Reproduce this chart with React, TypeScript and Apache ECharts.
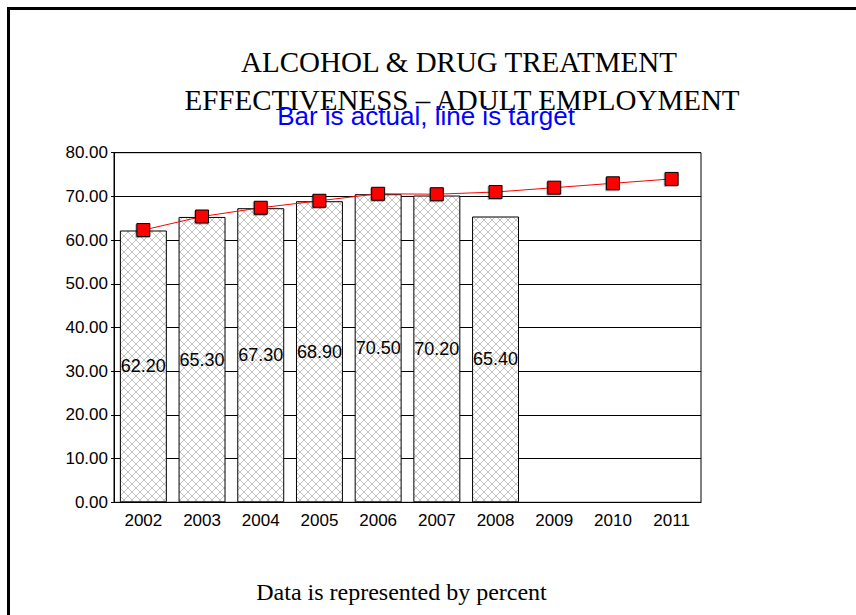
import React, { useEffect, useRef } from "react";
import * as echarts from "echarts";

const years = ["2002", "2003", "2004", "2005", "2006", "2007", "2008", "2009", "2010", "2011"];
const actual: (number | null)[] = [62.2, 65.3, 67.3, 68.9, 70.5, 70.2, 65.4, null, null, null];
const target = [62.3, 65.4, 67.4, 69.0, 70.6, 70.5, 71.0, 72.0, 73.0, 74.0];
const titleLines = ["ALCOHOL & DRUG TREATMENT", "EFFECTIVENESS – ADULT EMPLOYMENT"];
const subtitle = "Bar is actual, line is target";
const footnote = "Data is represented by percent";

function makeHatch(): string {
  const s = 8;
  const svg =
    `<svg xmlns="http://www.w3.org/2000/svg" width="${s}" height="${s}">` +
    `<rect width="${s}" height="${s}" fill="#ffffff"/>` +
    `<path d="M0 0L${s} ${s}M${s} 0L0 ${s}" stroke="#c2c2c2" stroke-width="1"/>` +
    `</svg>`;
  return "data:image/svg+xml;base64," + btoa(svg);
}

const SERIF = "'Liberation Serif', 'Times New Roman', serif";
const SANS = "'Liberation Sans', Arial, sans-serif";

export default function App() {
  const ref = useRef<HTMLDivElement>(null);
  useEffect(() => {
    if (!ref.current) return;
    const chart = echarts.init(ref.current, undefined, { renderer: "svg" });
    const hatch = { image: makeHatch(), repeat: "repeat" };
    chart.setOption({
      animation: false,
      backgroundColor: "#ffffff",
      grid: {
        left: 114,
        right: 155,
        top: 152.7,
        bottom: 112.7,
        show: true,
        borderColor: "#000",
        borderWidth: 1,
        backgroundColor: "transparent",
      },
      graphic: [
        { type: "line", shape: { x1: 8, y1: 8.5, x2: 856, y2: 8.5 }, style: { stroke: "#000", lineWidth: 3 } },
        { type: "line", shape: { x1: 8.5, y1: 7, x2: 8.5, y2: 615 }, style: { stroke: "#000", lineWidth: 3 } },
        {
          type: "text",
          x: 459,
          y: 62,
          style: {
            text: titleLines[0],
            font: `29px ${SERIF}`,
            fill: "#000",
            textAlign: "center",
            textVerticalAlign: "middle",
          },
        },
        {
          type: "text",
          x: 462,
          y: 100,
          style: {
            text: titleLines[1],
            font: `29px ${SERIF}`,
            fill: "#000",
            textAlign: "center",
            textVerticalAlign: "middle",
          },
        },
        {
          type: "text",
          x: 426,
          y: 116,
          style: {
            text: subtitle,
            font: `26px ${SANS}`,
            fill: "#0000ff",
            textAlign: "center",
            textVerticalAlign: "middle",
          },
        },
        {
          type: "text",
          x: 401.5,
          y: 592,
          style: {
            text: footnote,
            font: `24px ${SERIF}`,
            fill: "#000",
            textAlign: "center",
            textVerticalAlign: "middle",
          },
        },
      ],
      xAxis: {
        type: "category",
        data: years,
        axisLine: { show: true, lineStyle: { color: "#000", width: 1 } },
        axisTick: { show: false },
        axisLabel: {
          color: "#000",
          fontSize: 17,
          fontFamily: SANS,
          margin: 10,
        },
      },
      yAxis: {
        type: "value",
        min: 0,
        max: 80,
        interval: 10,
        axisLine: { show: true, lineStyle: { color: "#000", width: 1 } },
        axisTick: { show: true, length: 3, lineStyle: { color: "#000" } },
        splitLine: { show: true, lineStyle: { color: "#000", width: 1 } },
        axisLabel: {
          color: "#000",
          fontSize: 17,
          fontFamily: SANS,
          margin: 6,
          formatter: (v: number) => v.toFixed(2),
        },
      },
      series: [
        {
          type: "bar",
          data: actual,
          barWidth: "80%",
          itemStyle: { color: hatch, borderColor: "#000", borderWidth: 1 },
          label: {
            show: true,
            position: "inside",
            color: "#000",
            fontSize: 18,
            fontFamily: SANS,
            formatter: (p: any) => (p.value == null ? "" : Number(p.value).toFixed(2)),
          },
          z: 2,
        },
        {
          type: "line",
          data: target,
          symbol: "rect",
          symbolSize: 13,
          lineStyle: { color: "#ff0000", width: 1 },
          itemStyle: {
            color: "#ff0000",
            borderColor: "#000",
            borderWidth: 1,
            shadowColor: "rgba(0,0,0,0.3)",
            shadowOffsetX: -1,
            shadowOffsetY: 1,
            shadowBlur: 1,
          },
          z: 3,
        },
      ],
    });
    return () => chart.dispose();
  }, []);
  return <div ref={ref} style={{ position: "absolute", left: 0, top: 0, width: 856, height: 615 }} />;
}
